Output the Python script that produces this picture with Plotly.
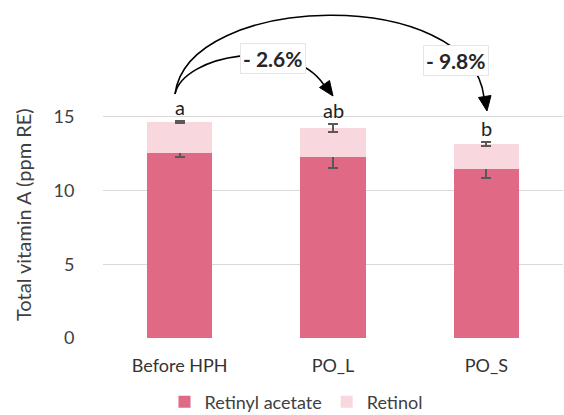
import plotly.graph_objects as go

categories = ["Before HPH", "PO_L", "PO_S"]
retinyl_acetate = [12.56, 12.29, 11.47]
retinyl_acetate_err = [0.25, 0.75, 0.6]
retinol = [2.10, 1.97, 1.70]
retinol_err = [0.06, 0.25, 0.12]
letters = ["a", "ab", "b"]
changes = ["- 2.6%", "- 9.8%"]
y_ticks = [0, 5, 10, 15]

W, H = 564, 415
ML, MR, MT, MB = 103, 1, 5, 77
PW, PH = W - ML - MR, H - MT - MB
YMAX = 22.6
XMIN, XMAX = -0.5, 2.5

def px2d(px, py):
    x = XMIN + (px - ML) / PW * (XMAX - XMIN)
    y = (MT + PH - py) / PH * YMAX
    return x, y

FONT = "Lato, 'Open Sans', Arial, sans-serif"
xs = list(range(len(categories)))

fig = go.Figure()
fig.add_trace(go.Bar(
    x=xs, y=retinyl_acetate, name="Retinyl acetate",
    marker=dict(color="#E06A85", line=dict(width=0)),
    error_y=dict(type="data", array=retinyl_acetate_err, color="#595959", thickness=2, width=5),
))
fig.add_trace(go.Bar(
    x=xs, y=retinol, name="Retinol",
    marker=dict(color="#F9D7DF", line=dict(width=0)),
    error_y=dict(type="data", array=retinol_err, color="#595959", thickness=2, width=5),
))

annotations = []
for i, (a, r, e, lab) in enumerate(zip(retinyl_acetate, retinol, retinol_err, letters)):
    annotations.append(dict(x=i, y=a + r + e, text=lab, showarrow=False, yanchor="bottom",
                            yshift=0, font=dict(size=20, color="#222222", family=FONT)))

def path_from(pts):
    s = ""
    for cmd, p in pts:
        s += cmd + " " + " ".join("%.4f,%.4f" % px2d(*q) for q in p) + " "
    return s.strip()

shapes = []
big = path_from([("M", [(175, 94)]), ("C", [(188, -8), (470, -15), (484, 97)])])
small = path_from([("M", [(175, 94)]), ("C", [(183, 55), (290, 35), (324, 85)])])
for p in (big, small):
    shapes.append(dict(type="path", path=p, xref="x", yref="y",
                       line=dict(color="black", width=1.6)))
heads = [
    [(487, 111), (478.5, 97.5), (491, 95.5)],
    [(333, 96), (319.5, 87.5), (329.5, 80.5)],
]
for h in heads:
    p = "M " + " L ".join("%.4f,%.4f" % px2d(*q) for q in h) + " Z"
    shapes.append(dict(type="path", path=p, xref="x", yref="y",
                       fillcolor="black", line=dict(color="black", width=1)))

for txt, (cx, cy) in zip(changes, [(273, 58), (456, 60)]):
    x, y = px2d(cx, cy)
    annotations.append(dict(x=x, y=y, text="<b>" + txt + "</b>", showarrow=False,
                            bgcolor="white", borderpad=2, bordercolor="#e6e6e6", borderwidth=1,
                            font=dict(size=21, color="#262626", family=FONT)))

annotations.append(dict(x=(23 - ML) / PW, y=(MT + PH - 215) / PH, xref="paper", yref="paper",
                        xanchor="center", yanchor="middle",
                        text="Total vitamin A (ppm RE)", textangle=-90, showarrow=False,
                        font=dict(size=20, color="#404040", family=FONT)))

fig.update_layout(
    width=W, height=H, margin=dict(l=ML, r=MR, t=MT, b=MB, autoexpand=False),
    paper_bgcolor="white", plot_bgcolor="white",
    barmode="stack", bargap=0.575,
    font=dict(family=FONT, size=15, color="#404040"),
    xaxis=dict(range=[XMIN, XMAX], tickvals=xs, ticktext=categories, showgrid=False,
               zeroline=False, showline=False, ticks="outside", ticklen=11, automargin=False,
               tickcolor="rgba(0,0,0,0)", tickfont=dict(size=18, color="#333333")),
    yaxis=dict(range=[0, YMAX], tickvals=y_ticks, showgrid=True, gridcolor="#D9D9D9",
               gridwidth=1, zeroline=False, showline=False, ticks="outside", ticklen=24,
               automargin=False,
               tickcolor="rgba(0,0,0,0)", tickfont=dict(size=18, color="#404040")),
    legend=dict(orientation="h", x=(296 - ML) / PW, xanchor="center",
                y=(MT + PH - 402) / PH, yanchor="middle", font=dict(size=18, color="#404040"),
                traceorder="normal"),
    annotations=annotations, shapes=shapes,
)
fig.write_html("out.html", config={"displayModeBar": False},
               post_script="document.body.style.margin='0';")
